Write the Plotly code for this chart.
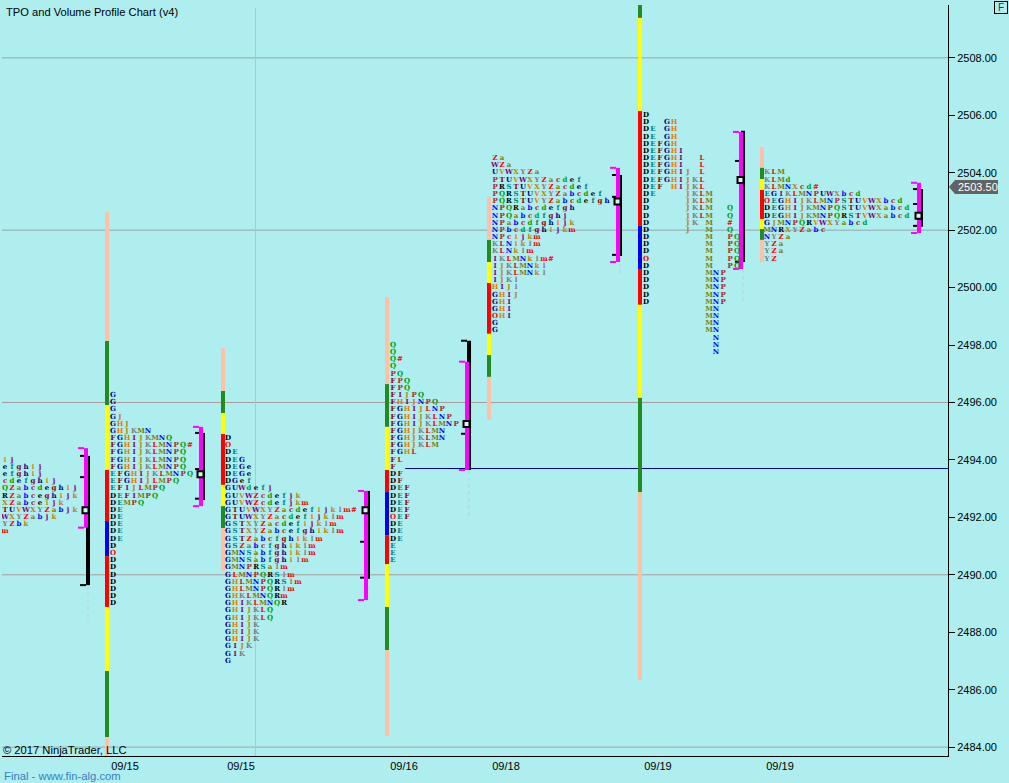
import plotly.graph_objects as go

# ---------- chart values ----------
date_labels = ["09/15", "09/15", "09/16", "09/18", "09/19", "09/19"]
date_slots = [17.57, 34.14, 57.43, 72.0, 93.71, 111.14]

# TPO letter rows for each session (top row first, one row per 0.25 point)
tpo_top = [2494.00, 2496.25, 2494.75, 2498.00, 2504.50, 2506.00, 2504.00]
tpo_slot = [0.43, 15.86, 32.29, 55.86, 70.43, 92.0, 109.29]
tpo_0 = ["ij", "efghij", "efghij", "cdefghij", "QZabcdeghij", "RZabceghijk", "XZabceijk",
         "TUVWXYZabjk", "WXYZabjk", "YZbk", "m"]
tpo_1 = ["G", "G", "G", "GJ", "GHJ", "GHJKMN", "FGHIJKMNQ", "FGHIJKLMNPQ#", "FGHIJKLMNPQ",
         "FGHIJKLMNPQ", "FGHIJKLMNPQ", "EFGHIJKLMNPQ", "EFGHIJLMPQ", "EFIJLMPQ", "DEFIMPQ",
         "DEMPQ", "DE", "DE", "DE", "DE", "DE", "D", "O", "D", "D", "D", "D", "D", "D", "D"]
tpo_2 = ["D", "O", "DE", "DEG", "DEGe", "DEGe", "DGef", "GUWdefj", "GUVWZcdefjk", "GUVWZcdefjkm",
         "GTUVWXYZacdefijklm#", "GTUWXYZacdefijklm", "GSTXYZacdefijklm", "GSTXYZabcefghiklm",
         "GSTZabcfghiklm", "GSZabcfghiklm", "GMNSabfghiklm", "GMNSabfghilm", "GMNPRSalm",
         "GLMNPQRSlm", "GHLMNPQRSlm", "GHLMNPQRlm", "GHKLMNQRm", "GHIKLMNQR", "GHIJKLQ",
         "GHIJKLQ", "GHIJK", "GHIJK", "GHIJK", "GIJK", "GIK", "G"]
tpo_3 = ["Q", "Q", "Q#", "Q", "PQ", "FPQ", "FPQ", "FIJPQ", "FHIJNPQ", "FGHIJLNP", "FGHIJKLNP",
         "FGHIJKLMNP", "FGHJKLMN", "FGHJKLMN", "FGHJKLM", "FGHL", "FL", "F", "DF", "DF", "DEF",
         "DEF", "DEF", "DEF", "OEF", "DE", "DE", "DE", "E", "E", "E"]
tpo_4 = ["Za", "WZa", "UVWXYZa", "PTUVWXYZacdef", "PRSTUVXYZacdef", "PQRSTUVXYZabcdef",
         "PQRSTUVYZabcdefgh", "NPQRabcdefgh", "NPQabcdfghj", "NPabcdfghijk", "NPbcdfghijkm",
         "NPcijkm", "KLNiklm", "KLNklm", "IKLMNklm#", "IJKLMNkl", "IJKLMNkl", "IJKl", "HIJl",
         "GHIJ", "GHI", "GHI", "OHI", "G", "G"]
tpo_5 = ["D", "D  GH", "DE GH", "DE GH", "DEFGH", "DEFGHI", "DEFGHI  L", "DEFGHI  L", "DEFGHIJ L",
         "DEFGHIJKL", "DEF HIJKL", "DE    JKLM", "D     JKLM", "D     JKLM  Q", "D     JKLM  Q",
         "D     JK M  #", "D     J  M  Q", "D        M  PQ", "D        M  PQ", "D        M  PQ",
         "O        M  PQ", "D        M  PQ", "D        MNP", "D        MNP", "D        MNP",
         "D        MNP", "D        MNP", "         MN", "         MN", "         MN", "         MN",
         "          N", "          N", "          N"]
tpo_6 = ["KLM", "KLMd", "KLMNXcd#", "EGIKLMNPUWXbcd", "OEGHIJKLMNPSTUVWXbcd",
         "DEGHIJKMNPQSTUVWXabcd", "DEGHIJKMNPQRSTVWXabcd", "GJMNPQRVWXYabcd", "MNRXYZabc",
         "NYZa", "YZa", "YZa", "YZ"]
tpo_sessions = [tpo_0, tpo_1, tpo_2, tpo_3, tpo_4, tpo_5, tpo_6]

# Range bars: price edges from top to bottom, with the zone of each stretch
bar_slot = [15.0, 31.57, 55.0, 69.57, 91.14, 108.57]
bar_edges = [
    [2502.63, 2498.14, 2495.91, 2493.65, 2491.87, 2490.65, 2488.88, 2486.65, 2484.35, 2483.69],
    [2497.90, 2496.40, 2495.63, 2494.90, 2493.13, 2492.39, 2491.63, 2490.13],
    [2499.67, 2496.64, 2495.15, 2493.65, 2492.88, 2491.38, 2490.37, 2488.88, 2487.38, 2484.38],
    [2503.16, 2501.66, 2500.89, 2500.16, 2498.39, 2497.65, 2496.89, 2495.39],
    [2509.84, 2509.39, 2506.15, 2502.15, 2500.65, 2499.40, 2496.16, 2492.88, 2486.33],
    [2504.90, 2504.17, 2503.78, 2503.40, 2502.39, 2502.04, 2501.66, 2500.89],
]
bar_zones = [
    ["outer", "edge", "mid", "core", "poc", "core", "mid", "edge", "outer"],
    ["outer", "edge", "mid", "core", "mid", "edge", "outer"],
    ["outer", "edge", "mid", "core", "poc", "core", "mid", "edge", "outer"],
    ["outer", "edge", "mid", "core", "mid", "edge", "outer"],
    ["edge", "mid", "core", "poc", "core", "mid", "edge", "outer"],
    ["outer", "edge", "mid", "core", "mid", "edge", "outer"],
]

# Value-area brackets and volume profile ranges
bracket_slot = [12.0, 28.43, 52.0, 66.43, 88.0, 105.57, 131.0]
va_high = [2494.41, 2495.15, 2492.92, 2497.42, 2504.17, 2505.42, 2503.65]
va_low = [2491.64, 2492.39, 2489.12, 2493.65, 2500.89, 2500.65, 2501.90]
vol_high = [2494.14, 2494.94, 2492.92, 2498.15, 2503.92, 2505.46, 2503.43]
vol_low = [2489.64, 2492.60, 2489.86, 2493.65, 2501.10, 2500.89, 2502.12]
vol_ticks = [
    [2494.14, 2493.40, 2489.64],
    [2494.94, 2493.68, 2492.65],
    [2491.15, 2489.90],
    [2498.15, 2494.91],
    [2503.92, 2503.16, 2501.14],
    [2504.41, 2500.90],
    [2503.43, 2502.91, 2502.15],
]
poc_price = [2492.25, 2493.50, 2492.25, 2495.25, 2503.00, 2503.75, 2502.50]
tail_low = [2488.37, 2492.60, 2489.10, 2491.92, 2500.40, 2499.50, 2502.12]

grid_prices = [2508, 2502, 2496, 2490, 2484]
grid_tints = ["#94a8aa", "#94a8aa", "#ab9c9c", "#ab9c9c", "#9fa5a7"]
naked_poc_price = 2493.70
naked_poc_start_slot = 57.6
cursor_slot = 36.21
last_price = 2503.50

# ---------- styles ----------
BG = "#AFEEEE"
ZONE = {"outer": "#FFC0A8", "edge": "#228B22", "mid": "#FFFF00", "core": "#FF0000", "poc": "#0000F0"}
CYCLE = ["#000000", "#008080", "#800000", "#000080", "#E67E00", "#800080", "#B8860B",
         "#808080", "#FF0000", "#808000", "#0000FF", "#A52A2A", "#00A000"]
LETTER = {}
for group in ("DEFGHIJKLMNPQ", "RSTUVWXYZabcd", "efghijklm"):
    for i, ch in enumerate(group):
        LETTER[ch] = CYCLE[i]
LETTER["O"] = "#FF0000"
LETTER["#"] = "#FF0000"
FONT = "Liberation Sans"
SLOT_PX = 7.0
TICK = 0.25


def paper_x(px):
    return (px - 2) / 946


def paper_y(py):
    return 1 - (py - 5) / 751


fig = go.Figure()

# Range bars
bx, by, bb, bc = [], [], [], []
for slot, edges, zones in zip(bar_slot, bar_edges, bar_zones):
    for k, zone in enumerate(zones):
        bx.append(slot)
        bb.append(edges[k + 1])
        by.append(edges[k] - edges[k + 1])
        bc.append(ZONE[zone])
fig.add_trace(go.Bar(x=bx, y=by, base=bb, width=4 / SLOT_PX, marker=dict(color=bc, line=dict(width=0)),
                     hoverinfo="skip", showlegend=False))

# Dashed tails under the volume range
tx, ty = [], []
for slot, lo, tail in zip(bracket_slot, vol_low, tail_low):
    tx += [slot + 2 / SLOT_PX, slot + 2 / SLOT_PX, None]
    ty += [lo, tail, None]
fig.add_trace(go.Scatter(x=tx, y=ty, mode="lines", line=dict(color="#BFC8F2", width=1, dash="4px,3px"),
                         hoverinfo="skip", showlegend=False))

# Volume range (black) with ticks
vx, vy, kx, ky = [], [], [], []
for slot, hi, lo, ticks in zip(bracket_slot, vol_high, vol_low, vol_ticks):
    c = slot + 2 / SLOT_PX
    vx += [c, c, None]
    vy += [hi, lo, None]
    for t in ticks:
        kx += [slot - 6 / SLOT_PX, slot, None]
        ky += [t, t, None]
fig.add_trace(go.Scatter(x=vx, y=vy, mode="lines", line=dict(color="#000000", width=4),
                         hoverinfo="skip", showlegend=False))
fig.add_trace(go.Scatter(x=kx, y=ky, mode="lines", line=dict(color="#000000", width=2),
                         hoverinfo="skip", showlegend=False))

# Value area (magenta) with bracket arms
mx, my, ax, ay = [], [], [], []
for slot, hi, lo in zip(bracket_slot, va_high, va_low):
    mx += [slot, slot, None]
    my += [hi, lo, None]
    for p in (hi, lo):
        ax += [slot - 8 / SLOT_PX, slot - 2 / SLOT_PX, None]
        ay += [p, p, None]
fig.add_trace(go.Scatter(x=mx, y=my, mode="lines", line=dict(color="#FF00FF", width=4),
                         hoverinfo="skip", showlegend=False))
fig.add_trace(go.Scatter(x=ax, y=ay, mode="lines", line=dict(color="#FF00FF", width=2),
                         hoverinfo="skip", showlegend=False))

# POC squares
fig.add_trace(go.Scatter(x=[s - 0.5 / SLOT_PX for s in bracket_slot], y=poc_price, mode="markers",
                         marker=dict(symbol="square", size=6, color="#D4F4F4", line=dict(color="#000000", width=2)),
                         hoverinfo="skip", showlegend=False))

# TPO letters
lx, ly, lt, lc = [], [], [], []
for top, slot, rows in zip(tpo_top, tpo_slot, tpo_sessions):
    for r, row in enumerate(rows):
        for c, ch in enumerate(row):
            if ch == " ":
                continue
            lx.append(slot + c)
            ly.append(top - r * TICK)
            lt.append(ch)
            lc.append(LETTER[ch])
fig.add_trace(go.Scatter(x=lx, y=ly, mode="text", text=lt,
                         textfont=dict(family="DejaVu Serif", size=7, color=lc, weight="bold"),
                         textposition="middle center", hoverinfo="skip", showlegend=False, cliponaxis=True))

shapes = []
for p, tint in zip(grid_prices, grid_tints):
    shapes.append(dict(type="line", xref="paper", yref="y", x0=0, x1=1, y0=p, y1=p,
                       line=dict(color=tint, width=1), layer="below"))
shapes.append(dict(type="line", xref="x", yref="paper", x0=cursor_slot, x1=cursor_slot, y0=0, y1=paper_y(8),
                   line=dict(color="#B4C6C6", width=1), layer="below"))
shapes.append(dict(type="line", xref="x", yref="y", x0=naked_poc_start_slot, x1=135.14,
                   y0=naked_poc_price, y1=naked_poc_price,
                   line=dict(color="#00008B", width=1), layer="below"))
half = 7 / 28.71
shapes.append(dict(type="path", xref="paper", yref="y", fillcolor="#636363", line=dict(width=0), layer="above",
                   path=f"M {paper_x(949)} {last_price} L {paper_x(955)} {last_price + half} "
                        f"L {paper_x(998)} {last_price + half} L {paper_x(998)} {last_price - half} "
                        f"L {paper_x(955)} {last_price - half} Z"))

annotations = [
    dict(text=f"{last_price:.2f}", xref="paper", yref="y", x=paper_x(956), y=last_price, xanchor="left",
         yanchor="middle", showarrow=False, font=dict(family=FONT, size=11, color="#FFFFFF")),
    dict(text="© 2017 NinjaTrader, LLC", xref="paper", yref="paper", x=paper_x(1), y=paper_y(750),
         xanchor="left", yanchor="middle", showarrow=False, font=dict(family=FONT, size=11.2, color="#000000")),
    dict(text="Final - www.fin-alg.com", xref="paper", yref="paper", x=paper_x(1.5), y=paper_y(776),
         xanchor="left", yanchor="middle", showarrow=False, font=dict(family=FONT, size=11.3, color="#3A80C0")),
    dict(text="F", xref="paper", yref="paper", x=paper_x(1001), y=paper_y(7.5), xanchor="center", yanchor="middle",
         showarrow=False, font=dict(family=FONT, size=10, color="#1a3a5a"), bordercolor="#000000", borderwidth=1,
         borderpad=0, width=12, height=11),
]

fig.update_layout(
    width=1009, height=783, margin=dict(l=2, r=61, t=5, b=27, pad=0),
    paper_bgcolor=BG, plot_bgcolor=BG, barmode="overlay", showlegend=False,
    title=dict(text="TPO and Volume Profile Chart (v4)", x=6 / 1009, y=1 - 12 / 783, xanchor="left",
               yanchor="middle", font=dict(family=FONT, size=11.15, color="#000000")),
    shapes=shapes, annotations=annotations,
    xaxis=dict(range=[0, 135.14], tickmode="array", tickvals=date_slots, ticktext=date_labels,
               showgrid=False, zeroline=False, showline=True, linecolor="#000000", linewidth=1, ticks="",
               tickfont=dict(family=FONT, size=11, color="#000000")),
    yaxis=dict(side="right", range=[2483.69, 2509.84], tickmode="linear", tick0=2484, dtick=2, tickformat=".2f",
               showgrid=False, zeroline=False, showline=True, linecolor="#000000", linewidth=1, ticks="outside",
               ticklen=6, tickcolor="#000000", tickwidth=1, tickfont=dict(family=FONT, size=11, color="#000000")),
)

fig.write_html("out.html", config={"displayModeBar": False},
               post_script="document.body.style.margin='0';document.body.style.overflow='hidden';")
